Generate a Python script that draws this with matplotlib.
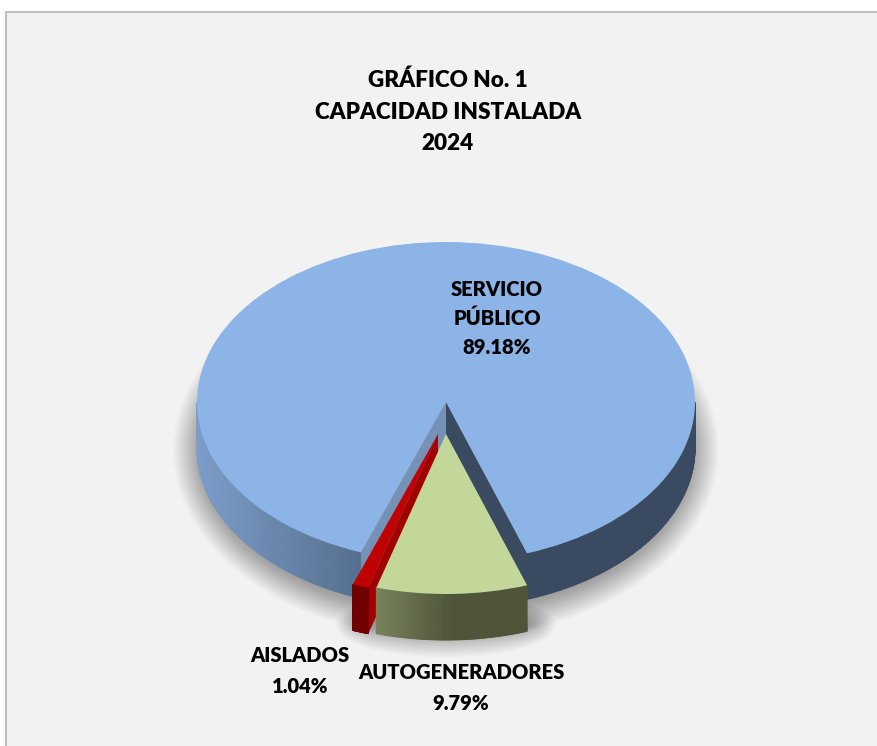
import numpy as np
import matplotlib
matplotlib.use("Agg")
import matplotlib.pyplot as plt
from matplotlib.colors import LinearSegmentedColormap
from matplotlib.patches import Ellipse, Rectangle

# --- Data ---
categories = ["SERVICIO\nPÚBLICO", "AISLADOS", "AUTOGENERADORES"]
shares = [89.18, 1.04, 9.79]
title = "GRÁFICO No. 1\nCAPACIDAD INSTALADA\n2024"

# --- Geometry of the fake 3D pie, in pixels ---
W, H = 877, 746
CX, CY = 446, 402
RX, RY = 249, 160
DEPTH = 46 / RY
OFFSETS = [(0, 0), (-8 / RX, -32 / RY), (0, -32 / RY)]

plt.rcParams["font.family"] = ["Lato", "DejaVu Sans"]
plt.rcParams["font.weight"] = "heavy"

fig = plt.figure(figsize=(W / 100, H / 100), dpi=100, facecolor="white")
ax = fig.add_axes([0, 0, 1, 1])

wedges, _ = ax.pie(shares, colors=["#8DB4E6", "#C00000", "#C4D79B"], startangle=-71,
                   wedgeprops={"linewidth": 0})
ax.set_aspect("auto")
ax.set_xlim(-CX / RX, (W - CX) / RX)
ax.set_ylim(-(H - CY) / RY, CY / RY)

# grey panel behind the chart
ax.add_patch(Rectangle((6 / W, -0.1), 1.1, 1 - 12 / H + 0.1, transform=ax.transAxes,
                       facecolor="#F2F2F2", edgecolor="#BFBFBF", linewidth=1.4, zorder=0))


# --- Soft shadow, stacked see-through ellipses ---
def soft_ellipse(x, y, rx, ry, steps, alpha):
    for k in range(steps):
        ax.add_patch(Ellipse((x, y), 2 * (rx + k) / RX, 2 * (ry + k) / RY,
                             facecolor="black", edgecolor="none", alpha=alpha, zorder=1))


soft_ellipse(0, -48 / RY, 236, 152, 38, 0.0105)
soft_ellipse(0, -223 / RY, 85, 8, 26, 0.012)


def arc(theta1, theta2, center=(0, 0), n=120):
    t = np.radians(np.linspace(theta1, theta2, n))
    return center[0] + np.cos(t), center[1] + np.sin(t)


# side wall of a slice, coloured left to right
def side(theta1, theta2, center, colors, zorder):
    x, y = arc(theta1, theta2, center)
    X = np.array([x, x])
    Y = np.array([y, y - DEPTH])
    cmap = LinearSegmentedColormap.from_list("side", colors)
    ax.pcolormesh(X, Y, np.array([x, x]), cmap=cmap, shading="gouraud", zorder=zorder,
                  vmin=x.min(), vmax=x.max())


# flat wall of a slice, from the tip to the rim
def cut(theta, center, color, zorder):
    x = center[0] + np.cos(np.radians(theta))
    y = center[1] + np.sin(np.radians(theta))
    ax.fill([center[0], x, x, center[0]],
            [center[1], y, y - DEPTH, center[1] - DEPTH],
            color=color, linewidth=0, zorder=zorder)


# --- Large slice ---
blue, red, green = wedges
blue_end = blue.theta2 % 360   # left edge of the gap
blue_start = blue.theta1 + 360  # right edge of the gap
side(180, blue_end, (0, 0), ["#7C9DC9", "#56708F"], 2)
side(blue_start, 360, (0, 0), ["#3A4A60", "#3A4A60"], 2)
cut(blue_end, (0, 0), "#7592B6", 3)
cut(blue_start, (0, 0), "#3A4A60", 3)
blue.set_center(OFFSETS[0])
blue.set_zorder(4)

# --- Thin red slice ---
cut(red.theta2, OFFSETS[1], "#A00000", 5)
side(red.theta1, red.theta2, OFFSETS[1], ["#700000", "#700000"], 6)
red.set_center(OFFSETS[1])
red.set_zorder(7)

# --- Green slice ---
side(green.theta1, green.theta2, OFFSETS[2], ["#78835C", "#50553A", "#50553A"], 8)
green.set_center(OFFSETS[2])
green.set_zorder(9)

# --- Text ---
fig.text(448 / W, 1 - 112 / H, title, ha="center", va="center", fontsize=16.2,
         linespacing=1.62, color="black")
fig.text(497 / W, 1 - 318 / H, f"{categories[0]}\n{shares[0]:.2f}%", ha="center", va="center",
         fontsize=14.5, linespacing=1.6, color="black")
fig.text(300 / W, 1 - 671 / H, f"{categories[1]}\n{shares[1]:.2f}%", ha="center", va="center",
         fontsize=14.5, linespacing=1.7, color="black")
fig.text(461 / W, 1 - 688 / H, f"{categories[2]}\n{shares[2]:.2f}%", ha="center", va="center",
         fontsize=14.5, linespacing=1.7, color="black")

fig.savefig("out.png", dpi=100)
